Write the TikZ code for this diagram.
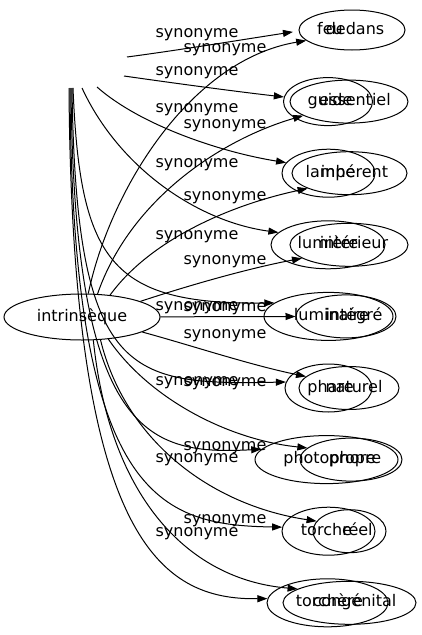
\documentclass[tikz,border=0pt]{standalone}
\usepackage{fontspec}
\setmainfont{DejaVu Sans}
\usetikzlibrary{shapes.geometric,arrows.meta}
\newcommand\wordat[2]{\makebox[0pt]{\hspace*{#1}\hspace*{#1}#2}}
\begin{document}
\begin{tikzpicture}[x=1pt,y=-1pt,
  every node/.style={font=\fontsize{16}{19}\selectfont, text height=12pt, text depth=4pt},
  wnode/.style={ellipse, draw, line width=1pt, inner sep=0pt},
  ghost/.style={ellipse, draw=none, inner sep=0pt},
  bnode/.style={wnode, minimum height=48pt},
  anode/.style={wnode, minimum height=43pt},
  lbl/.style={inner sep=0pt},
  edge/.style={line width=1pt, -{Triangle[length=10pt,width=7pt]}},
]
\fill[white] (0,0) rectangle (421,635);
\useasboundingbox (0,0) rectangle (421,635);

% source node
\node[wnode, minimum width=156pt, minimum height=46pt] (intr) at (82,317) {intrinsèque};

% pair 1
\node[ghost, minimum width=72pt, minimum height=40pt] (feu) at (329,30) {\wordat{1pt}{feu}};
\node[wnode, minimum width=106pt, minimum height=40pt] (dedans) at (352,30) {\wordat{3pt}{dedans}};
% pair 2
\node[bnode, minimum width=89pt] (guide) at (328,101.6) {\wordat{2pt}{guide}};
\node[anode, minimum width=118pt] (essentiel) at (349,101.6) {\wordat{6pt}{essentiel}};
% pair 3
\node[bnode, minimum width=93pt] (lampe) at (328.5,173.2) {\wordat{2pt}{lampe}};
\node[anode, minimum width=115pt] (inherent) at (349.5,173.2) {\wordat{5pt}{inhérent}};
% pair 4
\node[bnode, minimum width=114pt] (lumiere) at (328,244.8) {\wordat{0pt}{lumière}};
\node[anode, minimum width=118pt] (interieur) at (349,244.8) {\wordat{5pt}{intérieur}};
% pair 5
\node[bnode, minimum width=129pt] (luminaire) at (328.5,316.4) {\wordat{3pt}{luminaire}};
\node[anode, minimum width=100pt] (integre) at (346,316.4) {\wordat{8pt}{intégré}};
% pair 6
\node[bnode, minimum width=87pt] (phare) at (328.5,388) {\wordat{2pt}{phare}};
\node[anode, minimum width=100pt] (naturel) at (349,388) {\wordat{5pt}{naturel}};
% pair 7
\node[bnode, minimum width=143pt] (photophore) at (326.5,459.6) {\wordat{3pt}{photophore}};
\node[anode, minimum width=102pt] (propre) at (351,459.6) {\wordat{4pt}{propre}};
% pair 8
\node[bnode, minimum width=93pt] (torche) at (328.5,531.2) {\wordat{-2pt}{torche}};
\node[anode, minimum width=73pt] (reel) at (349.5,531.2) {\wordat{8pt}{réel}};
% pair 9
\node[bnode, minimum width=121pt] (torchere) at (327.5,602.8) {\wordat{2pt}{torchère}};
\node[anode, minimum width=133pt] (congenital) at (349.5,602.8) {\wordat{5pt}{congénital}};

% free ends of the upper-left bundle
\coordinate (s1) at (127,57);
\coordinate (s2) at (124,76);
\coordinate (s3) at (97,87);
\coordinate (s4) at (82,88);
\coordinate (s5) at (73,88);
\coordinate (s6) at (72,88);
\coordinate (s7) at (71,88);
\coordinate (s8) at (70,88);
\coordinate (s9) at (69,88);

% bundle edges
\draw[edge] (s1) .. controls (180,50) and (240,40) .. (feu.183);
\draw[edge] (s2) .. controls (180,84) and (240,92) .. (guide.174);
\draw[edge] (s3) .. controls (140,125) and (220,152) .. (lampe.166);
\draw[edge] (s4) .. controls (120,170) and (200,222) .. (lumiere.166);
\draw[edge] (s5) .. controls (80,260) and (110,305) .. (luminaire.166);
\draw[edge] (s6) .. controls (76,380) and (130,385) .. (phare.172);
\draw[edge] (s7) .. controls (74,440) and (150,455) .. (photophore.171);
\draw[edge] (s8) .. controls (72,500) and (160,525) .. (torche.175);
\draw[edge] (s9) .. controls (72,540) and (160,600) .. (torchere.176);

% intrinseque edges
\draw[edge] (intr.75) .. controls (110,190) and (190,60) .. (dedans.193);
\draw[edge] (intr.56) .. controls (130,200) and (220,140) .. (essentiel.197);
\draw[edge] (intr.38) .. controls (150,240) and (230,205) .. (inherent.200);
\draw[edge] (intr.15) .. controls (190,285) and (250,268) .. (interieur.196);
\draw[edge] (intr) -- (integre);
\draw[edge] (intr.346) .. controls (190,345) and (250,365) .. (naturel.165);
\draw[edge] (intr.320) .. controls (150,400) and (230,440) .. (propre.165);
\draw[edge] (intr.309) .. controls (125,440) and (210,505) .. (reel.163);
\draw[edge] (intr.296) .. controls (110,500) and (190,580) .. (congenital.165);

% labels of the bundle edges
\node[lbl] (lb1) at (197,33) {synonyme};
\node[lbl] (lb2) at (197,71) {synonyme};
\node[lbl] (lb3) at (197,108) {synonyme};
\node[lbl] (lb4) at (197,163) {synonyme};
\node[lbl] (lb5) at (197,235) {synonyme};
\node[lbl] (lb6) at (197,306) {synonyme};
\node[lbl] (lb7) at (197,381) {synonyme};
\node[lbl] (lb8) at (197,458) {synonyme};
\node[lbl] (lb9) at (197,532) {synonyme};
% labels of the intrinseque edges
\node[lbl] (la1) at (225,48) {synonyme};
\node[lbl] (la2) at (225,124) {synonyme};
\node[lbl] (la3) at (225,196) {synonyme};
\node[lbl] (la4) at (225,260) {synonyme};
\node[lbl] (la5) at (225,307) {synonyme};
\node[lbl] (la6) at (225,334) {synonyme};
\node[lbl] (la7) at (225,382) {synonyme};
\node[lbl] (la8) at (225,446) {synonyme};
\node[lbl] (la9) at (225,519) {synonyme};
\end{tikzpicture}
\end{document}
